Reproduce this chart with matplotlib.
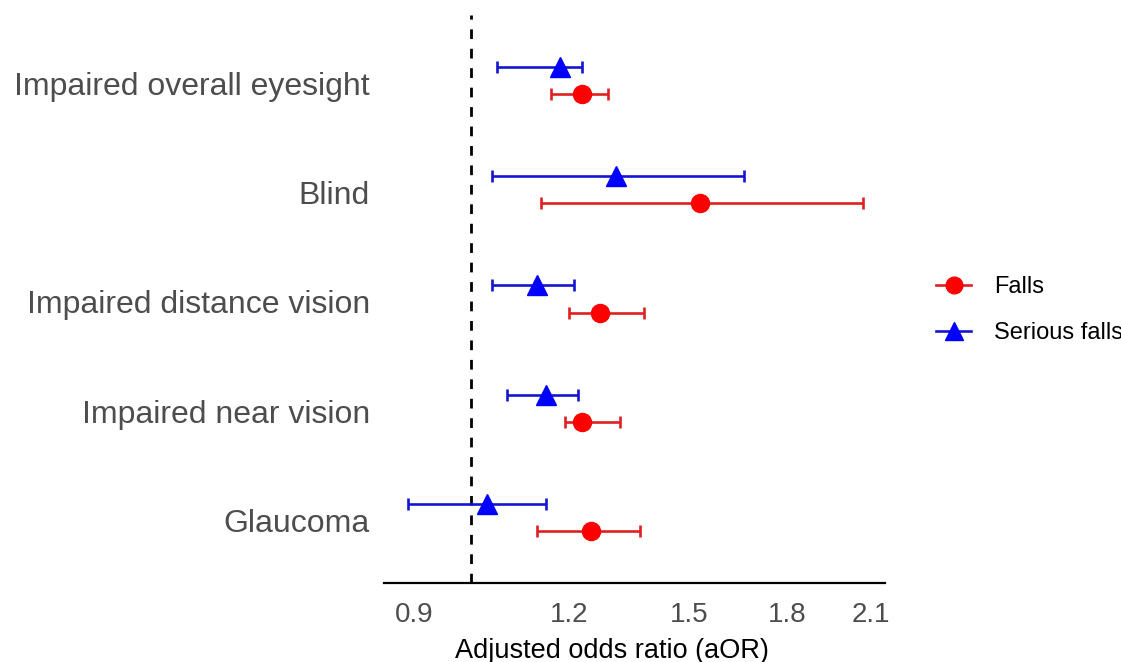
import numpy as np
import matplotlib.pyplot as plt
import matplotlib.transforms as mtransforms
from matplotlib.lines import Line2D

plt.rcParams['font.family'] = ['Liberation Sans', 'DejaVu Sans']

# Datos (aOR e IC 95%), de arriba hacia abajo
categories = ["Impaired overall eyesight", "Blind", "Impaired distance vision",
              "Impaired near vision", "Glaucoma"]
falls_or = [1.23, 1.53, 1.27, 1.23, 1.25]
falls_lo = [1.16, 1.14, 1.20, 1.19, 1.13]
falls_hi = [1.29, 2.07, 1.38, 1.32, 1.37]
serious_or = [1.18, 1.31, 1.13, 1.15, 1.03]
serious_lo = [1.05, 1.04, 1.04, 1.07, 0.89]
serious_hi = [1.23, 1.66, 1.21, 1.22, 1.15]
x_ticks = [0.9, 1.2, 1.5, 1.8, 2.1]

fig = plt.figure(figsize=(11.21, 6.62), dpi=100)
ax = fig.add_axes([384 / 1121, 79 / 662, 501 / 1121, 568 / 662])

y = np.arange(len(categories))[::-1] + 1.0
dodge = 0.125

def draw(vals, lo, hi, yy, mcol, lcol, marker, ms):
    vals = np.array(vals)
    err = [vals - np.array(lo), np.array(hi) - vals]
    ax.errorbar(vals, yy, xerr=err, fmt="none", ecolor=lcol, elinewidth=1.9,
                capsize=4, capthick=1.9, zorder=2)
    ax.plot(vals, yy, marker, color=mcol, markersize=ms, linestyle="none", zorder=3)

draw(falls_or, falls_lo, falls_hi, y - dodge, "#ff0000", "#dd2020", "o", 13)
draw(serious_or, serious_lo, serious_hi, y + dodge, "#0000ff", "#1515d0", "^", 15)

ax.axvline(1.0, color="black", linestyle=(0, (3.5, 3.5)), linewidth=2, zorder=1)

ax.set_xscale("log")
ax.set_xlim(0.851, 2.157)
ax.set_ylim(0.4, 5.6)
ax.set_xticks(x_ticks)
ax.set_xticklabels([f"{t:.1f}" for t in x_ticks])
ax.xaxis.set_minor_locator(plt.NullLocator())
ax.set_yticks(y)
ax.set_yticklabels(categories)

for s in ["top", "right", "left"]:
    ax.spines[s].set_visible(False)
ax.spines["bottom"].set_linewidth(1.6)
ax.tick_params(axis="both", length=0, colors="#4d4d4d")
ax.tick_params(axis="x", labelsize=20, pad=14)
ax.tick_params(axis="y", labelsize=23, pad=10)
ax.set_xlabel("Adjusted odds ratio (aOR)", fontsize=19.5)
ax.xaxis.set_label_coords((612 - 384) / 501, -(651 - 583) / 568)
ax.xaxis.label.set_va("center")

# bajar un poco las etiquetas del eje y
shift = mtransforms.ScaledTranslation(0, -3 / 100, fig.dpi_scale_trans)
for lab in ax.get_yticklabels():
    lab.set_transform(lab.get_transform() + shift)

handles = [
    Line2D([0], [0], color="#dd2020", lw=1.9, marker="o", markersize=12,
           markerfacecolor="#ff0000", markeredgecolor="#ff0000"),
    Line2D([0], [0], color="#1515d0", lw=1.9, marker="^", markersize=13,
           markerfacecolor="#0000ff", markeredgecolor="#0000ff"),
]
fig.legend(handles, ["Falls", "Serious falls"], loc="center left",
           bbox_to_anchor=(936 / 1121, 1 - 310 / 662), frameon=False,
           fontsize=17, handlelength=1.5, labelspacing=1.0, handletextpad=0.95,
           borderaxespad=0, borderpad=0)

fig.savefig("out.png", dpi=100)
